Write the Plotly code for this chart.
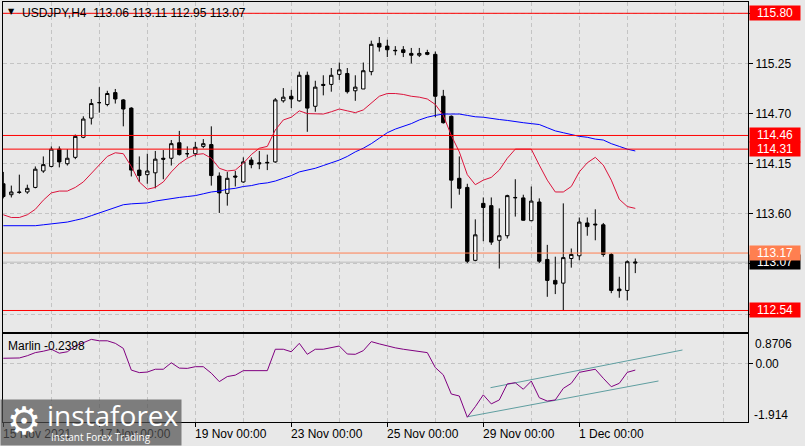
import plotly.graph_objects as go

# ---------------- data ----------------
bar_index = list(range(80))  # H4 bars, 15 Nov 2021 00:00 .. 2 Dec 2021 04:00

opens = [113.93, 113.81, 113.84, 113.84, 113.89, 114.07, 114.12, 114.31, 114.15, 114.22,
         114.44, 114.65, 114.82, 114.80, 114.93, 114.85, 114.76, 114.08, 114.03, 114.05,
         114.21, 114.21, 114.38, 114.26, 114.26, 114.34, 114.36, 114.015, 113.825, 114.015,
         113.95, 114.19, 114.16, 114.165, 114.17, 114.84, 114.89, 114.84, 115.12, 114.78,
         115.02, 115.02, 115.13, 115.14, 114.95, 114.97, 115.16, 115.47, 115.44, 115.394,
         115.40, 115.36, 115.34, 115.37, 115.35, 114.89, 114.67, 113.99, 113.89, 113.09,
         113.715, 113.69, 113.31, 113.36, 113.78, 113.775, 113.525, 113.73, 113.10, 112.87,
         112.84, 113.11, 113.14, 113.50, 113.488, 113.48, 113.155, 112.775, 112.76, 113.06]

highs = [114.06, 113.91, 114.03, 113.92, 114.12, 114.23, 114.34, 114.34, 114.31, 114.47,
         114.67, 114.86, 114.99, 114.95, 114.97, 114.86, 114.77, 114.23, 114.26, 114.29,
         114.30, 114.41, 114.51, 114.34, 114.39, 114.42, 114.56, 114.055, 114.06, 114.07,
         114.22, 114.22, 114.29, 114.25, 114.87, 114.98, 114.96, 115.16, 115.16, 115.06,
         115.12, 115.20, 115.26, 115.20, 115.12, 115.26, 115.50, 115.54, 115.51, 115.44,
         115.44, 115.42, 115.42, 115.40, 115.38, 114.96, 114.68, 114.23, 113.93, 113.54,
         113.78, 113.78, 113.66, 113.81, 113.98, 113.81, 113.90, 113.77, 113.26, 113.13,
         113.715, 113.22, 113.56, 113.56, 113.65, 113.50, 113.17, 112.91, 113.09, 113.11]

lows = [113.77, 113.78, 113.82, 113.82, 113.88, 114.05, 114.11, 114.11, 114.13, 114.20,
        114.43, 114.58, 114.71, 114.78, 114.81, 114.56, 114.01, 113.95, 113.93, 113.88,
        113.98, 114.13, 114.24, 114.22, 114.23, 114.32, 113.91, 113.61, 113.69, 113.90,
        113.94, 114.10, 114.09, 114.08, 114.16, 114.82, 114.76, 114.83, 114.50, 114.72,
        114.90, 114.94, 115.07, 114.92, 114.84, 114.97, 115.12, 115.38, 115.32, 115.34,
        115.32, 115.25, 115.32, 115.34, 114.66, 114.59, 113.66, 113.81, 113.06, 113.08,
        113.30, 113.26, 113.00, 113.33, 113.57, 113.525, 113.52, 113.06, 112.69, 112.72,
        112.54, 113.01, 113.09, 113.36, 113.31, 113.13, 112.73, 112.68, 112.65, 112.95]

closes = [113.79, 113.84, 113.835, 113.88, 114.09, 114.14, 114.31, 114.17, 114.21, 114.45,
          114.64, 114.81, 114.82, 114.92, 114.86, 114.75, 114.08, 114.02, 114.07, 114.20,
          114.20, 114.37, 114.25, 114.26, 114.33, 114.37, 114.02, 113.83, 113.99, 114.004,
          114.17, 114.14, 114.15, 114.16, 114.85, 114.88, 114.86, 115.12, 114.76, 114.99,
          115.01, 115.12, 115.18, 114.94, 114.99, 115.17, 115.46, 115.43, 115.40, 115.39,
          115.37, 115.34, 115.36, 115.35, 114.89, 114.60, 113.97, 113.88, 113.08, 113.37,
          113.67, 113.29, 113.36, 113.80, 113.777, 113.53, 113.74, 113.08, 112.87, 112.83,
          113.12, 113.155, 113.51, 113.46, 113.48, 113.155, 112.76, 112.757, 113.075, 113.07]

ma_fast = [113.59, 113.56, 113.56, 113.59, 113.65, 113.75, 113.83, 113.85, 113.85, 113.89,
           113.95, 114.04, 114.14, 114.23, 114.27, 114.26, 114.12, 113.95, 113.87, 113.89,
           113.95, 114.06, 114.15, 114.21, 114.25, 114.26, 114.21, 114.10, 114.07, 114.08,
           114.155, 114.25, 114.32, 114.34, 114.52, 114.63, 114.66, 114.73, 114.70, 114.695,
           114.695, 114.72, 114.75, 114.73, 114.71, 114.74, 114.82, 114.89, 114.92, 114.92,
           114.91, 114.89, 114.88, 114.86, 114.80, 114.68, 114.46, 114.28, 114.03, 113.92,
           113.97, 114.00, 114.08, 114.21, 114.31, 114.31, 114.31, 114.135, 113.97, 113.84,
           113.84, 113.90, 114.06, 114.16, 114.22, 114.135, 113.97, 113.76, 113.68, 113.66]

ma_slow = [113.47, 113.47, 113.47, 113.47, 113.47, 113.48, 113.49, 113.50, 113.51, 113.53,
           113.55, 113.58, 113.61, 113.64, 113.67, 113.70, 113.71, 113.715, 113.72, 113.74,
           113.755, 113.77, 113.78, 113.79, 113.80, 113.82, 113.84, 113.85, 113.87, 113.88,
           113.90, 113.91, 113.93, 113.94, 113.96, 113.99, 114.02, 114.06, 114.08, 114.10,
           114.13, 114.16, 114.19, 114.23, 114.28, 114.32, 114.37, 114.43, 114.49, 114.53,
           114.56, 114.59, 114.63, 114.66, 114.68, 114.695, 114.695, 114.695, 114.68, 114.665,
           114.66, 114.645, 114.635, 114.625, 114.61, 114.60, 114.59, 114.58, 114.545, 114.51,
           114.49, 114.47, 114.45, 114.44, 114.42, 114.41, 114.37, 114.34, 114.31, 114.29]

marlin = [0.18, 0.18, 0.19, 0.27, 0.38, 0.43, 0.50, 0.36, 0.41, 0.615,
          0.73, 0.85, 0.80, 0.80, 0.71, 0.53, -0.24, -0.33, -0.31, -0.21,
          -0.21, 0.02, -0.17, -0.18, -0.12, -0.12, -0.35, -0.65, -0.47, -0.42,
          -0.26, -0.26, -0.27, -0.26, 0.50, 0.50, 0.41, 0.71, 0.32, 0.50,
          0.50, 0.55, 0.615, 0.33, 0.32, 0.45, 0.77, 0.69, 0.615, 0.55,
          0.50, 0.46, 0.43, 0.38, -0.15, -0.41, -1.09, -1.16, -1.914, -1.54,
          -1.12, -1.44, -1.30, -0.73, -0.69, -0.92, -0.63, -1.22, -1.34, -1.30,
          -0.89, -0.71, -0.32, -0.26, -0.21, -0.53, -0.83, -0.71, -0.32, -0.2398]

channel_upper_x = [60.9, 84.9]
channel_upper_y = [-0.865, 0.473]
channel_lower_x = [58.05, 81.9]
channel_lower_y = [-1.895, -0.627]

levels = [115.80, 114.46, 114.31, 113.17, 112.54]
level_colors = ["#FF0000", "#FF0000", "#FF0000", "#FF7F50", "#FF0000"]
bid_price = 113.07

price_ticks = [115.80, 115.25, 114.70, 114.15, 113.60, 113.05, 112.50]
price_tick_text = ["", "115.25", "114.70", "114.15", "113.60", "", ""]

time_label_pos = [0, 12, 24, 36, 48, 60, 72]
time_labels = ["15 Nov 2021", "17 Nov 00:00", "19 Nov 00:00", "23 Nov 00:00",
               "25 Nov 00:00", "29 Nov 00:00", "1 Dec 00:00"]
day_grid_pos = [6, 12, 18, 24, 30, 36, 42, 48, 54, 60, 66, 72, 78, 84, 90]
minor_grid_pos = [6, 18, 30, 42, 54, 66, 78, 84, 90]

title_text = "USDJPY,H4\u00a0\u00a0113.06 113.11 112.95 113.07"
indicator_text = "Marlin -0.2398"

# ---------------- styling ----------------
W, H = 805, 446
BG = "#E8E8E8"
GRID = "#C4C4C4"
FONT = "Liberation Sans, Arial, sans-serif"
X_RANGE = [-0.04, 93.09]
Y_RANGE = [112.304, 115.924]
Y2_RANGE = [-2.083, 1.041]
X_DOM = [3 / W, 748 / W]

fig = go.Figure()

fig.add_trace(go.Candlestick(
    x=bar_index, open=opens, high=highs, low=lows, close=closes,
    increasing=dict(line=dict(color="black", width=1), fillcolor="white"),
    decreasing=dict(line=dict(color="black", width=1), fillcolor="black"),
    whiskerwidth=0, xaxis="x", yaxis="y", showlegend=False, hoverinfo="skip"))

fig.add_trace(go.Scatter(x=bar_index, y=ma_fast, mode="lines",
                         line=dict(color="#DC143C", width=1), xaxis="x", yaxis="y",
                         showlegend=False, hoverinfo="skip"))
fig.add_trace(go.Scatter(x=bar_index, y=ma_slow, mode="lines",
                         line=dict(color="#0000FF", width=1), xaxis="x", yaxis="y",
                         showlegend=False, hoverinfo="skip"))

fig.add_trace(go.Scatter(x=channel_upper_x, y=channel_upper_y, mode="lines",
                         line=dict(color="#5F9EA0", width=1), xaxis="x2", yaxis="y2",
                         showlegend=False, hoverinfo="skip"))
fig.add_trace(go.Scatter(x=channel_lower_x, y=channel_lower_y, mode="lines",
                         line=dict(color="#5F9EA0", width=1), xaxis="x2", yaxis="y2",
                         showlegend=False, hoverinfo="skip"))
fig.add_trace(go.Scatter(x=bar_index, y=marlin, mode="lines",
                         line=dict(color="#800080", width=1), xaxis="x2", yaxis="y2",
                         showlegend=False, hoverinfo="skip"))

shapes = []
# bid line
shapes.append(dict(type="line", xref="x domain", x0=0, x1=1, yref="y", y0=bid_price, y1=bid_price,
                   line=dict(color="#BDBDBD", width=1), layer="below"))
for lv, col in zip(levels, level_colors):
    shapes.append(dict(type="line", xref="x domain", x0=0, x1=1, yref="y", y0=lv, y1=lv,
                       line=dict(color=col, width=1)))

annotations = []
# price-level labels on the right axis (boxes)
label_specs = [(bid_price, "#000000")] + list(zip(levels, level_colors))
for lv, col in label_specs:
    annotations.append(dict(xref="paper", x=775 / W, xanchor="center", yref="y", y=lv,
                            yanchor="middle", text="%.2f" % lv, showarrow=False,
                            bgcolor=col, width=50, height=14, borderpad=0, align="center",
                            font=dict(family=FONT, size=12, color="white")))

# indicator side labels
annotations.append(dict(xref="paper", x=753 / W, xanchor="left", yref="paper", y=1 - 343.7 / H,
                        yanchor="middle", text="0.8706", showarrow=False,
                        font=dict(family=FONT, size=12, color="black")))
annotations.append(dict(xref="paper", x=752 / W, xanchor="left", yref="paper", y=1 - 415 / H,
                        yanchor="middle", text="-1.914", showarrow=False,
                        font=dict(family=FONT, size=12, color="black")))

# title + indicator name
annotations.append(dict(xref="paper", x=6 / W, xanchor="left", yref="paper", y=1 - 12 / H,
                        yanchor="middle", text="\u25BC", showarrow=False,
                        font=dict(family="DejaVu Sans", size=8, color="black")))
annotations.append(dict(xref="paper", x=20 / W, xanchor="left", yref="paper", y=1 - 13 / H,
                        yanchor="middle", text=title_text, showarrow=False,
                        font=dict(family=FONT, size=12, color="black")))
annotations.append(dict(xref="paper", x=6 / W, xanchor="left", yref="paper", y=1 - 345.5 / H,
                        yanchor="middle", text=indicator_text, showarrow=False,
                        font=dict(family=FONT, size=12, color="black")))

# time axis labels
for pos, lab in zip(time_label_pos, time_labels):
    annotations.append(dict(xref="x2", x=pos, xanchor="left", xshift=-2, yref="paper",
                            y=1 - 433.5 / H, yanchor="middle", text=lab, showarrow=False,
                            font=dict(family=FONT, size=12, color="black")))

# watermark
annotations.append(dict(xref="paper", x=0, xanchor="left", yref="paper", y=0, yanchor="bottom",
                        text=" ", showarrow=False, width=180, height=45, borderpad=0,
                        bgcolor="rgba(80,80,80,0.7)"))
annotations.append(dict(xref="paper", x=24 / W, xanchor="center", yref="paper", y=1 - 421 / H,
                        yanchor="middle", text="\u2699", showarrow=False,
                        font=dict(family="DejaVu Sans", size=38, color="white")))
annotations.append(dict(xref="paper", x=45 / W, xanchor="left", yref="paper", y=1 - 415 / H,
                        yanchor="middle", text="instaforex", showarrow=False,
                        font=dict(family="Open Sans", size=28, color="white")))
annotations.append(dict(xref="paper", x=49 / W, xanchor="left", yref="paper", y=1 - 437 / H,
                        yanchor="middle", text="Instant Forex Trading", showarrow=False,
                        font=dict(family="Open Sans", size=10, color="white")))

fig.update_layout(
    width=W, height=H, margin=dict(l=0, r=0, t=0, b=0),
    paper_bgcolor=BG, plot_bgcolor=BG, showlegend=False, boxgap=0.4,
    font=dict(family=FONT, size=12, color="black"),
    xaxis=dict(domain=X_DOM, range=X_RANGE, anchor="y", showticklabels=False,
               tickmode="array", tickvals=day_grid_pos, ticks="",
               showgrid=True, gridcolor=GRID, griddash="4px,3px", gridwidth=1,
               showline=True, linecolor="black", linewidth=1, mirror=True,
               zeroline=False, rangeslider=dict(visible=False)),
    xaxis2=dict(domain=X_DOM, range=X_RANGE, anchor="y2", matches="x", showticklabels=False,
                tickmode="array", tickvals=time_label_pos, ticks="outside", ticklen=4,
                tickcolor="black",
                showgrid=True, gridcolor=GRID, griddash="4px,3px", gridwidth=1,
                minor=dict(tickmode="array", tickvals=minor_grid_pos, ticks="", showgrid=True,
                           gridcolor=GRID, griddash="4px,3px", gridwidth=1),
                showline=True, linecolor="black", linewidth=1, mirror=True, zeroline=False),
    yaxis=dict(domain=[1 - 332 / H, 1 - 2 / H], range=Y_RANGE, anchor="x", side="right",
               tickmode="array", tickvals=price_ticks, ticktext=price_tick_text,
               ticks="outside", ticklen=4, tickcolor="black",
               tickfont=dict(family=FONT, size=12, color="black"),
               showgrid=True, gridcolor=GRID, griddash="4px,3px", gridwidth=1,
               showline=True, linecolor="black", linewidth=1, mirror=True, zeroline=False),
    yaxis2=dict(domain=[1 - 422 / H, 1 - 334 / H], range=Y2_RANGE, anchor="x2", side="right",
                tickmode="array", tickvals=[0], ticktext=["0.00"],
                ticks="outside", ticklen=4, tickcolor="black",
                tickfont=dict(family=FONT, size=12, color="black"),
                showgrid=True, gridcolor=GRID, griddash="4px,3px", gridwidth=1,
                showline=True, linecolor="black", linewidth=1, mirror=True, zeroline=False),
    shapes=shapes, annotations=annotations,
)

fig.write_html("out.html", config={"displayModeBar": False},
               post_script="document.body.style.margin='0';document.body.style.overflow='hidden';")
